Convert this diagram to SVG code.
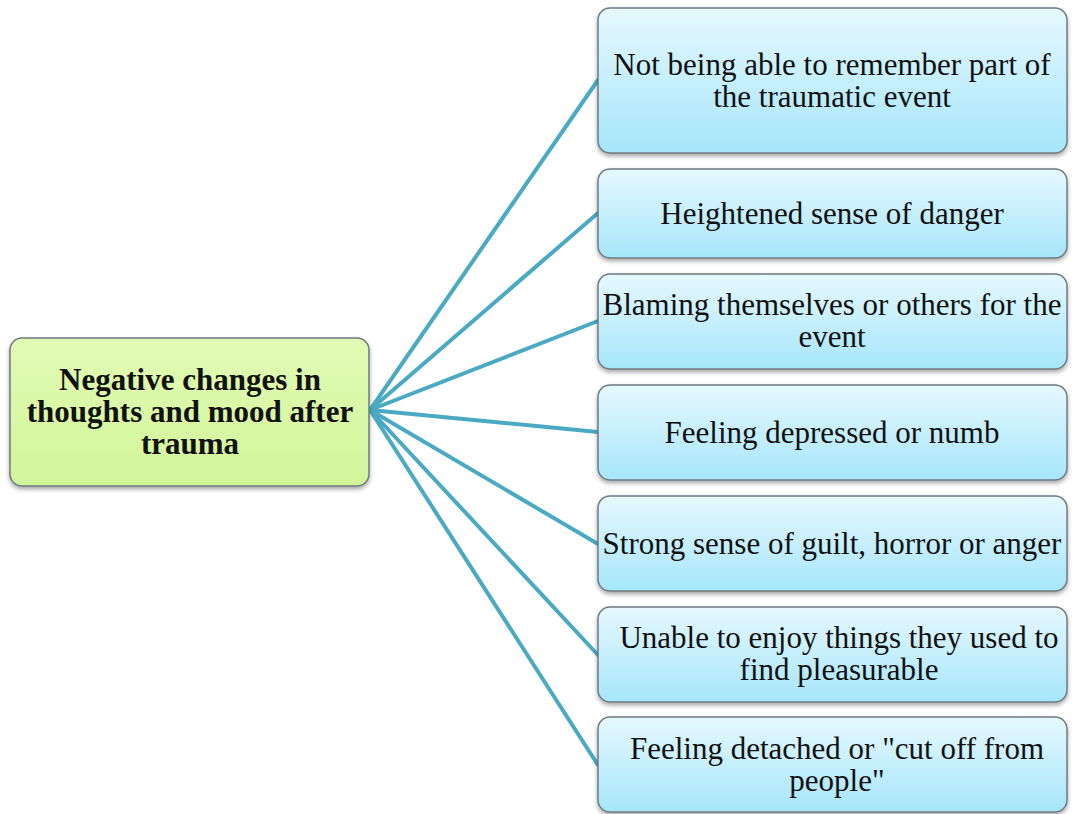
<svg xmlns="http://www.w3.org/2000/svg" width="1072" height="814" viewBox="0 0 1072 814">
<style>
.leaf{fill:url(#gb);stroke:#6e7b80;stroke-width:1.5;filter:url(#sh)}
.root{fill:url(#gg);stroke:#6e7b80;stroke-width:1.5;filter:url(#sh)}
.t{font-family:"Liberation Serif","Times New Roman",serif;font-size:31px;fill:#111;text-anchor:middle}
.rt{font-family:"Liberation Serif","Times New Roman",serif;font-size:31px;font-weight:bold;fill:#111;text-anchor:middle}
.c{stroke:#4aaac4;stroke-width:4;fill:none;stroke-linecap:round}
</style>
<defs>
<linearGradient id="gb" x1="0" y1="0" x2="0" y2="1"><stop offset="0" stop-color="#e6f8fe"/><stop offset="1" stop-color="#a6e6fb"/></linearGradient>
<linearGradient id="gg" x1="0" y1="0" x2="0" y2="1"><stop offset="0" stop-color="#e2fbb4"/><stop offset="1" stop-color="#d2f59a"/></linearGradient>
<filter id="sh" x="-5%" y="-10%" width="110%" height="125%"><feDropShadow dx="0" dy="2.5" stdDeviation="2" flood-color="#000" flood-opacity="0.35"/></filter>
</defs>
<rect width="1072" height="814" fill="#fff"/>
<g id="connectors">
<line class="c" x1="370" y1="410" x2="598" y2="80"/>
<line class="c" x1="370" y1="410" x2="598" y2="213"/>
<line class="c" x1="370" y1="410" x2="598" y2="321"/>
<line class="c" x1="370" y1="410" x2="598" y2="432"/>
<line class="c" x1="370" y1="410" x2="598" y2="544"/>
<line class="c" x1="370" y1="410" x2="598" y2="655"/>
<line class="c" x1="370" y1="410" x2="598" y2="765"/>
</g>
<g id="root">
<rect class="root" x="10" y="338" width="359" height="148" rx="12"/>
<text class="rt" x="190" y="390">Negative changes in</text>
<text class="rt" x="190" y="422">thoughts and mood after</text>
<text class="rt" x="190" y="454">trauma</text>
</g>
<g id="n1">
<rect class="leaf" x="598" y="8" width="469" height="145" rx="12"/>
<text class="t" x="832" y="75">Not being able to remember part of</text>
<text class="t" x="832" y="107">the traumatic event</text>
</g>
<g id="n2">
<rect class="leaf" x="598" y="169" width="469" height="89" rx="12"/>
<text class="t" x="832" y="224">Heightened sense of  danger</text>
</g>
<g id="n3">
<rect class="leaf" x="598" y="274" width="469" height="95" rx="12"/>
<text class="t" x="832" y="315">Blaming themselves or others for the</text>
<text class="t" x="832" y="347">event</text>
</g>
<g id="n4">
<rect class="leaf" x="598" y="385" width="469" height="95" rx="12"/>
<text class="t" x="832" y="443">Feeling depressed or numb</text>
</g>
<g id="n5">
<rect class="leaf" x="598" y="496" width="469" height="95" rx="12"/>
<text class="t" x="832" y="554">Strong sense of  guilt, horror or anger</text>
</g>
<g id="n6">
<rect class="leaf" x="598" y="607" width="469" height="95" rx="12"/>
<text class="t" x="839" y="648">Unable to enjoy things they used to</text>
<text class="t" x="839" y="680">find pleasurable</text>
</g>
<g id="n7">
<rect class="leaf" x="598" y="717" width="469" height="95" rx="12"/>
<text class="t" x="837" y="759">Feeling detached or "cut off  from</text>
<text class="t" x="837" y="791">people"</text>
</g>
</svg>
